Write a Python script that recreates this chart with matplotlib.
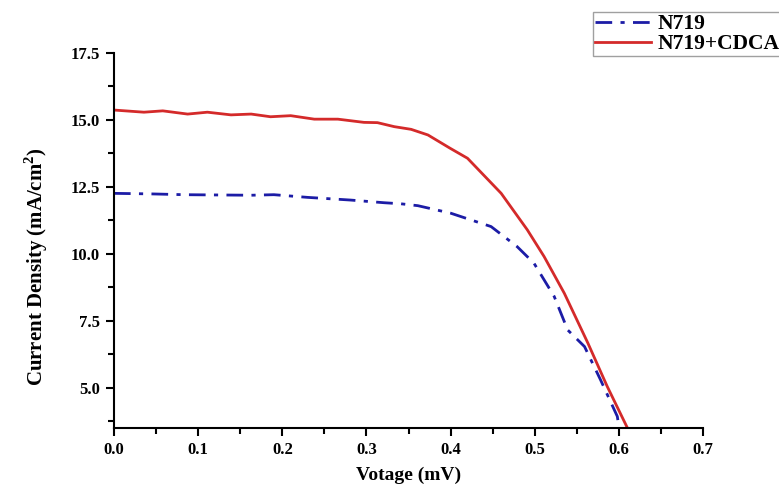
import numpy as np
import matplotlib
matplotlib.use("Agg")
import matplotlib.pyplot as plt
from matplotlib.ticker import MultipleLocator

plt.rcParams['font.family'] = ['Liberation Serif', 'DejaVu Serif']
plt.rcParams['mathtext.fontset'] = 'custom'
plt.rcParams['mathtext.rm'] = 'Liberation Serif'
plt.rcParams['mathtext.bf'] = 'Liberation Serif:bold'

# N719 (blue, dash-dot)
v_n719 = [0.0, 0.044, 0.083, 0.123, 0.163, 0.19, 0.23, 0.281, 0.321, 0.341, 0.361,
          0.40, 0.448, 0.479, 0.499, 0.523, 0.539, 0.559, 0.578, 0.598, 0.600]
j_n719 = [12.26, 12.24, 12.21, 12.20, 12.19, 12.21, 12.11, 12.01, 11.91, 11.87, 11.80,
          11.52, 11.02, 10.27, 9.65, 8.41, 7.16, 6.54, 5.30, 3.93, 3.5]

# N719+CDCA (red, solid)
v_cdca = [0.0, 0.0356, 0.058, 0.0875, 0.111, 0.139, 0.163, 0.186, 0.210, 0.238, 0.266,
          0.297, 0.313, 0.333, 0.353, 0.373, 0.399, 0.420, 0.460, 0.491, 0.511, 0.535,
          0.563, 0.586, 0.610]
j_cdca = [15.37, 15.29, 15.34, 15.22, 15.29, 15.19, 15.22, 15.12, 15.16, 15.03, 15.03,
          14.91, 14.90, 14.75, 14.65, 14.44, 13.95, 13.57, 12.26, 10.9, 9.9, 8.53,
          6.67, 5.05, 3.5]

fig = plt.figure(figsize=(7.79, 4.84), dpi=100)
ax = fig.add_axes([0.1463, 0.1157, 0.7564, 0.7748])

l1, = ax.plot(v_n719, j_n719, color='#1c1ca6', lw=2, linestyle=(0, (6, 3, 1.5, 3)), label='N719')
l2, = ax.plot(v_cdca, j_cdca, color='#d42a2a', lw=2, label='N719+CDCA')

ax.set_xlim(0, 0.7)
ax.set_ylim(3.5, 17.5)
ax.xaxis.set_major_locator(MultipleLocator(0.1))
ax.xaxis.set_minor_locator(MultipleLocator(0.05))
ax.yaxis.set_minor_locator(MultipleLocator(1.25))
ax.yaxis.set_major_formatter(matplotlib.ticker.FormatStrFormatter('%.1f'))
ax.xaxis.set_major_formatter(matplotlib.ticker.FormatStrFormatter('%.1f'))
ax.set_yticks([5, 7.5, 10, 12.5, 15, 17.5])

for s in ['top', 'right']:
    ax.spines[s].set_visible(False)
for s in ['left', 'bottom']:
    ax.spines[s].set_linewidth(1.5)
ax.tick_params(which='major', direction='out', length=6, width=1.5, labelsize=12, pad=4)
ax.tick_params(which='minor', direction='out', length=4, width=1.5)
for lab in ax.get_xticklabels() + ax.get_yticklabels():
    lab.set_fontweight('bold')

ax.set_xlabel('Votage (mV)', fontsize=14, fontweight='bold', labelpad=6)
ax.set_ylabel(r'Current Density (mA/cm$^{\mathbf{2}}$)', fontsize=15, fontweight='bold')
ax.yaxis.set_label_coords(-0.108, 0.43)

leg = fig.legend(handles=[l1, l2], loc='upper left', bbox_to_anchor=(593 / 779, 1 - 12 / 484),
                 prop={'weight': 'bold', 'size': 15.5}, frameon=True, fancybox=False,
                 edgecolor='#888888', handlelength=2.6, handletextpad=0.3,
                 borderpad=0.1, labelspacing=0.0, borderaxespad=0)
leg.get_frame().set_linewidth(1)

fig.savefig('out.png', dpi=100)
